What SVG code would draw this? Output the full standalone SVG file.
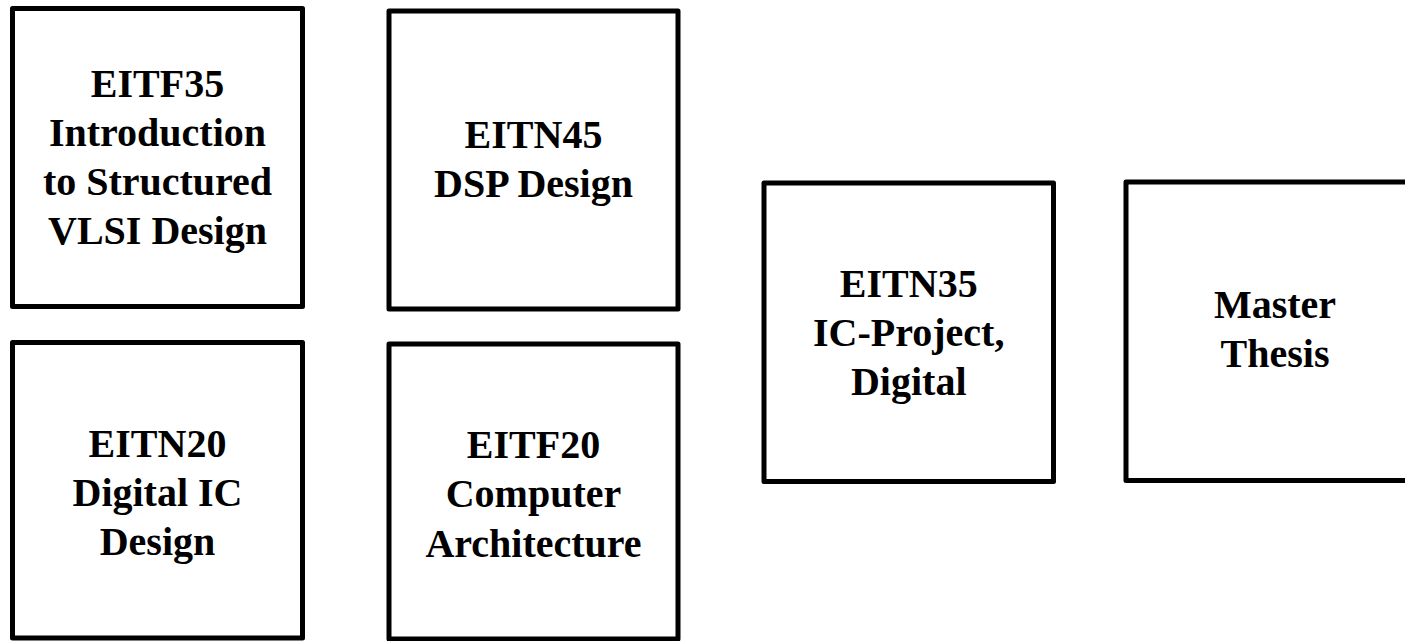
<svg xmlns="http://www.w3.org/2000/svg" width="1405" height="641" viewBox="0 0 1405 641">
<style>
.box{fill:#fff;stroke:#000;stroke-width:5;stroke-linejoin:round}
.lbl{font-family:"Liberation Serif","Times New Roman",serif;font-weight:bold;font-size:40px;fill:#000;text-anchor:middle}
</style>
<rect x="0" y="0" width="1405" height="641" fill="#fff"/>
<g id="connectors"></g>
<g id="eitf35">
<rect class="box" x="12.5" y="8.5" width="290" height="298"/>
<text class="lbl" x="157.5" y="97">EITF35</text>
<text class="lbl" x="157.5" y="146">Introduction</text>
<text class="lbl" x="157.5" y="195">to Structured</text>
<text class="lbl" x="157.5" y="244">VLSI Design</text>
</g>
<g id="eitn45">
<rect class="box" x="389" y="11" width="289" height="298"/>
<text class="lbl" x="533.5" y="148">EITN45</text>
<text class="lbl" x="533.5" y="197">DSP Design</text>
</g>
<g id="eitn20">
<rect class="box" x="12.5" y="342.5" width="290" height="295.5"/>
<text class="lbl" x="157.5" y="457">EITN20</text>
<text class="lbl" x="157.5" y="506">Digital IC</text>
<text class="lbl" x="157.5" y="555">Design</text>
</g>
<g id="eitf20">
<rect class="box" x="389" y="344" width="289" height="295"/>
<text class="lbl" x="533.5" y="458">EITF20</text>
<text class="lbl" x="533.5" y="507">Computer</text>
<text class="lbl" x="533.5" y="557">Architecture</text>
</g>
<g id="eitn35">
<rect class="box" x="764" y="183" width="289.5" height="298.5"/>
<text class="lbl" x="908.75" y="297">EITN35</text>
<text class="lbl" x="908.75" y="346">IC-Project,</text>
<text class="lbl" x="908.75" y="395">Digital</text>
</g>
<g id="master">
<rect class="box" x="1126" y="182" width="298" height="298.5"/>
<text class="lbl" x="1275" y="318">Master</text>
<text class="lbl" x="1275" y="367">Thesis</text>
</g>
</svg>
